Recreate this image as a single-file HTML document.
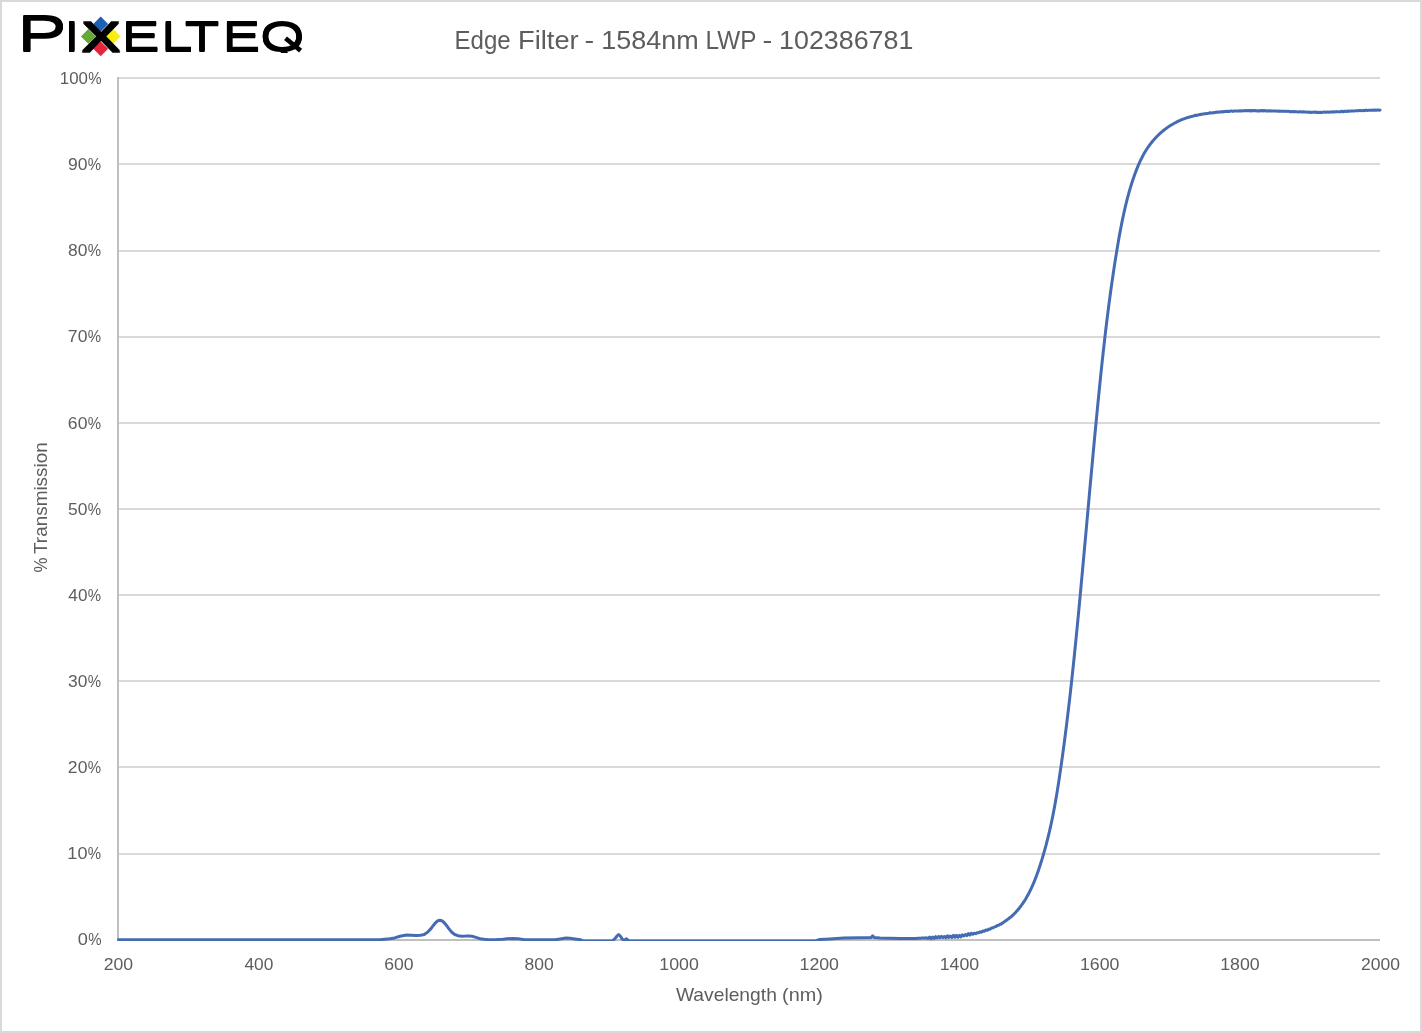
<!DOCTYPE html>
<html lang="en">
<head>
<meta charset="utf-8">
<title>Edge Filter - 1584nm LWP - 102386781</title>
<style>
html,body{margin:0;padding:0;background:#ffffff;}
body{width:1422px;height:1033px;overflow:hidden;}
svg{display:block;}
</style>
</head>
<body>
<svg width="1422" height="1033" viewBox="0 0 1422 1033">
<rect x="0" y="0" width="1422" height="1033" fill="#ffffff"/>
<rect x="1" y="1" width="1420" height="1031" fill="none" stroke="#d9d9d9" stroke-width="2"/>
<g fill="#d9d9d9">
<rect x="118" y="853" width="1262" height="2"/>
<rect x="118" y="766" width="1262" height="2"/>
<rect x="118" y="680" width="1262" height="2"/>
<rect x="118" y="594" width="1262" height="2"/>
<rect x="118" y="508" width="1262" height="2"/>
<rect x="118" y="422" width="1262" height="2"/>
<rect x="118" y="336" width="1262" height="2"/>
<rect x="118" y="250" width="1262" height="2"/>
<rect x="118" y="163" width="1262" height="2"/>
<rect x="118" y="77" width="1262" height="2"/>
</g>
<g fill="#bfbfbf">
<rect x="117" y="77" width="2" height="864"/>
<rect x="117" y="939" width="1263" height="2"/>
</g>
<clipPath id="pc"><rect x="117.25" y="60" width="1265" height="881"/></clipPath>
<path clip-path="url(#pc)" d="M118,939.65 L300,939.65 L380,939.65 L384.8,939.2 L390,938.7 L394.6,937.9 L400,936.3 L406.4,935 L411,935.2 L416.3,935.6 L420.5,935.3 L424.2,934.5 L427.5,932.3 L431,928.6 L433.5,925.2 L436,922.2 L438,920.7 L439.9,920.2 L441.8,920.7 L443.8,922.2 L446.3,925.2 L448.8,928.6 L451.8,932.3 L454.7,934.5 L458,935.7 L461.6,936.2 L465.5,936.1 L469.4,935.9 L472,936.2 L474.4,936.9 L477.5,937.9 L480.3,938.7 L484,939.2 L488.1,939.65 L495,939.65 L502.9,939.2 L507,938.8 L512.8,938.4 L518,938.8 L524.6,939.65 L555.1,939.65 L560,938.9 L566,937.9 L570,938.2 L574.8,938.9 L580.7,939.65 L582.7,941.05 L612.2,941.05 L615.2,938.4 L617,936 L618.6,934.5 L620.3,936 L622.1,938.9 L624,940.3 L626.5,938.9 L629,941.05 L815,941.05 L819,939.6 L830,939 L843.7,938.1 L858.5,937.7 L871,937.6 L872.7,935.9 L874.3,937.6 L880,937.9 L900,938.4 L914.65,938.54 L916.13,938.43 L917.62,938.33 L919.11,938.23 L920.6,938.14 L922.09,938.05 L923.58,937.97 L925.07,937.9 L926.56,937.83 L928.05,938.49 L929.55,937.09 L931.04,938.59 L932.54,937.02 L934.03,938.38 L935.53,936.69 L937.02,937.92 L938.52,936.46 L940.02,937.78 L941.51,936.38 L943.01,937.66 L944.5,936.47 L946,937.75 L947.49,935.78 L948.99,937.35 L950.48,936.01 L951.98,937.5 L953.47,935.28 L954.96,937.22 L956.45,935.4 L957.94,937.22 L959.43,935.35 L960.91,936.81 L962.4,934.83 L963.88,935.94 L965.37,934.55 L966.85,935.62 L968.33,933.6 L969.81,935.04 L971.28,933.24 L972.76,934.32 L974.23,933.21 L975.7,933.65 L977.17,932.67 L978.63,932.76 L980.1,931.87 L981.56,932.22 L983.01,930.95 L984.47,931.2 L985.92,929.97 L987.37,930.3 L988.81,929.08 L990.24,929.14 L991.66,928.05 L993.07,927.79 L994.47,926.89 L995.86,926.64 L997.23,925.49 L998.58,925.37 L999.92,924.3 L1001.24,924 L1002.54,922.86 L1003.82,922.25 L1005.08,921.03 L1006.31,920.5 L1007.51,919.41 L1008.69,918.7 L1009.85,917.52 L1010.97,917.08 L1012.07,915.63 L1013.15,915.14 L1014.2,913.7 L1015.23,913.01 L1016.23,911.49 L1017.21,910.81 L1018.16,909.33 L1019.1,908.65 L1020.01,906.88 L1020.9,906.2 L1021.77,904.62 L1022.62,903.67 L1023.45,902.18 L1024.26,901.41 L1025.05,899.93 L1025.82,898.66 L1026.58,897.38 L1027.31,896.08 L1028.03,894.78 L1028.74,893.46 L1029.42,892.12 L1030.1,890.78 L1030.75,889.43 L1031.39,888.06 L1032.02,886.69 L1032.64,885.31 L1033.24,883.92 L1033.83,882.52 L1034.4,881.12 L1034.97,879.71 L1035.52,878.29 L1036.06,876.87 L1036.59,875.44 L1037.12,874.01 L1037.63,872.58 L1038.13,871.14 L1038.63,869.7 L1039.12,868.26 L1039.6,866.81 L1040.07,865.37 L1040.54,863.92 L1041,862.48 L1041.46,861.03 L1041.91,859.59 L1042.35,858.14 L1042.78,856.69 L1043.21,855.24 L1043.64,853.79 L1044.05,852.34 L1044.46,850.89 L1044.87,849.44 L1045.27,847.99 L1045.66,846.54 L1046.05,845.09 L1046.44,843.63 L1046.81,842.18 L1047.19,840.72 L1047.55,839.27 L1047.92,837.81 L1048.27,836.36 L1048.62,834.9 L1048.97,833.45 L1049.31,831.99 L1049.65,830.53 L1049.98,829.07 L1050.31,827.61 L1050.64,826.15 L1050.95,824.69 L1051.27,823.23 L1051.58,821.77 L1051.89,820.31 L1052.19,818.85 L1052.49,817.38 L1052.78,815.92 L1053.07,814.46 L1053.36,812.99 L1053.64,811.53 L1053.92,810.06 L1054.2,808.6 L1054.47,807.13 L1054.74,805.66 L1055.01,804.2 L1055.27,802.73 L1055.53,801.26 L1055.79,799.79 L1056.04,798.32 L1056.3,796.86 L1056.54,795.39 L1056.79,793.92 L1057.03,792.44 L1057.28,790.97 L1057.51,789.5 L1057.75,788.03 L1057.98,786.56 L1058.22,785.08 L1058.45,783.61 L1058.67,782.14 L1058.9,780.66 L1059.12,779.19 L1059.35,777.71 L1059.57,776.24 L1059.79,774.76 L1060,773.29 L1060.22,771.81 L1060.44,770.33 L1060.65,768.86 L1060.86,767.38 L1061.07,765.9 L1061.28,764.42 L1061.49,762.94 L1061.7,761.46 L1061.91,759.99 L1062.12,758.51 L1062.32,757.03 L1062.53,755.54 L1062.73,754.06 L1062.93,752.58 L1063.13,751.1 L1063.33,749.62 L1063.53,748.14 L1063.73,746.65 L1063.93,745.17 L1064.13,743.69 L1064.32,742.2 L1064.52,740.72 L1064.71,739.24 L1064.9,737.75 L1065.09,736.27 L1065.29,734.78 L1065.48,733.3 L1065.67,731.81 L1065.85,730.33 L1066.04,728.84 L1066.23,727.35 L1066.41,725.87 L1066.6,724.38 L1066.78,722.89 L1066.97,721.4 L1067.15,719.92 L1067.33,718.43 L1067.51,716.94 L1067.69,715.45 L1067.87,713.96 L1068.05,712.47 L1068.23,710.98 L1068.4,709.49 L1068.58,708 L1068.75,706.51 L1068.93,705.02 L1069.1,703.53 L1069.28,702.04 L1069.45,700.55 L1069.62,699.06 L1069.79,697.57 L1069.96,696.08 L1070.13,694.59 L1070.3,693.09 L1070.47,691.6 L1070.64,690.11 L1070.8,688.62 L1070.97,687.12 L1071.13,685.63 L1071.3,684.14 L1071.46,682.64 L1071.63,681.15 L1071.79,679.66 L1071.95,678.16 L1072.11,676.67 L1072.27,675.18 L1072.43,673.68 L1072.59,672.19 L1072.75,670.69 L1072.91,669.2 L1073.07,667.7 L1073.23,666.21 L1073.39,664.71 L1073.54,663.22 L1073.7,661.72 L1073.85,660.23 L1074.01,658.73 L1074.16,657.24 L1074.32,655.74 L1074.47,654.25 L1074.62,652.75 L1074.78,651.25 L1074.93,649.76 L1075.08,648.26 L1075.23,646.76 L1075.38,645.27 L1075.53,643.77 L1075.68,642.28 L1075.83,640.78 L1075.98,639.28 L1076.13,637.79 L1076.28,636.29 L1076.42,634.79 L1076.57,633.29 L1076.72,631.8 L1076.86,630.3 L1077.01,628.8 L1077.16,627.31 L1077.3,625.81 L1077.45,624.31 L1077.59,622.82 L1077.74,621.32 L1077.88,619.82 L1078.02,618.32 L1078.17,616.83 L1078.31,615.33 L1078.45,613.83 L1078.6,612.33 L1078.74,610.84 L1078.88,609.34 L1079.02,607.84 L1079.16,606.35 L1079.3,604.85 L1079.45,603.35 L1079.59,601.85 L1079.73,600.36 L1079.87,598.86 L1080.01,597.36 L1080.15,595.87 L1080.29,594.37 L1080.43,592.87 L1080.57,591.38 L1080.71,589.88 L1080.84,588.38 L1080.98,586.88 L1081.12,585.39 L1081.26,583.89 L1081.4,582.39 L1081.54,580.9 L1081.67,579.4 L1081.81,577.91 L1081.95,576.41 L1082.09,574.91 L1082.23,573.42 L1082.36,571.92 L1082.5,570.42 L1082.64,568.93 L1082.77,567.43 L1082.91,565.93 L1083.05,564.44 L1083.18,562.94 L1083.32,561.45 L1083.46,559.95 L1083.59,558.45 L1083.73,556.96 L1083.86,555.46 L1084,553.97 L1084.14,552.47 L1084.27,550.98 L1084.41,549.48 L1084.54,547.99 L1084.68,546.49 L1084.81,544.99 L1084.95,543.5 L1085.09,542 L1085.22,540.51 L1085.36,539.01 L1085.49,537.52 L1085.63,536.02 L1085.76,534.53 L1085.9,533.03 L1086.03,531.54 L1086.17,530.04 L1086.3,528.55 L1086.44,527.05 L1086.57,525.56 L1086.71,524.06 L1086.84,522.57 L1086.98,521.07 L1087.11,519.58 L1087.25,518.08 L1087.38,516.59 L1087.52,515.1 L1087.65,513.6 L1087.79,512.11 L1087.92,510.61 L1088.06,509.12 L1088.19,507.62 L1088.33,506.13 L1088.46,504.64 L1088.6,503.14 L1088.73,501.65 L1088.87,500.15 L1089,498.66 L1089.14,497.17 L1089.27,495.67 L1089.41,494.18 L1089.54,492.68 L1089.68,491.19 L1089.81,489.7 L1089.95,488.2 L1090.09,486.71 L1090.22,485.22 L1090.36,483.72 L1090.49,482.23 L1090.63,480.74 L1090.77,479.24 L1090.9,477.75 L1091.04,476.26 L1091.18,474.76 L1091.31,473.27 L1091.45,471.78 L1091.59,470.28 L1091.72,468.79 L1091.86,467.3 L1092,465.81 L1092.14,464.31 L1092.27,462.82 L1092.41,461.33 L1092.55,459.83 L1092.69,458.34 L1092.83,456.85 L1092.96,455.36 L1093.1,453.86 L1093.24,452.37 L1093.38,450.88 L1093.52,449.39 L1093.66,447.9 L1093.8,446.4 L1093.94,444.91 L1094.08,443.42 L1094.22,441.93 L1094.36,440.44 L1094.5,438.94 L1094.64,437.45 L1094.78,435.96 L1094.92,434.47 L1095.06,432.98 L1095.21,431.49 L1095.35,429.99 L1095.49,428.5 L1095.63,427.01 L1095.77,425.52 L1095.92,424.03 L1096.06,422.54 L1096.2,421.05 L1096.35,419.56 L1096.49,418.06 L1096.63,416.57 L1096.78,415.08 L1096.92,413.59 L1097.07,412.1 L1097.21,410.61 L1097.36,409.12 L1097.5,407.63 L1097.65,406.14 L1097.8,404.65 L1097.94,403.16 L1098.09,401.67 L1098.24,400.18 L1098.39,398.69 L1098.53,397.2 L1098.68,395.71 L1098.83,394.22 L1098.98,392.73 L1099.13,391.24 L1099.28,389.75 L1099.43,388.26 L1099.58,386.77 L1099.73,385.28 L1099.88,383.79 L1100.03,382.3 L1100.18,380.81 L1100.34,379.32 L1100.49,377.83 L1100.64,376.34 L1100.8,374.85 L1100.95,373.36 L1101.11,371.87 L1101.26,370.38 L1101.42,368.89 L1101.58,367.4 L1101.73,365.91 L1101.89,364.42 L1102.05,362.94 L1102.21,361.45 L1102.37,359.96 L1102.53,358.47 L1102.69,356.98 L1102.86,355.49 L1103.02,354 L1103.18,352.51 L1103.35,351.03 L1103.51,349.54 L1103.68,348.05 L1103.84,346.56 L1104.01,345.07 L1104.18,343.58 L1104.35,342.1 L1104.52,340.61 L1104.69,339.12 L1104.86,337.63 L1105.03,336.15 L1105.2,334.66 L1105.38,333.17 L1105.55,331.68 L1105.73,330.19 L1105.91,328.71 L1106.08,327.22 L1106.26,325.73 L1106.44,324.24 L1106.62,322.76 L1106.8,321.27 L1106.99,319.78 L1107.17,318.3 L1107.35,316.81 L1107.54,315.32 L1107.73,313.83 L1107.91,312.35 L1108.1,310.86 L1108.29,309.37 L1108.48,307.89 L1108.68,306.4 L1108.87,304.91 L1109.06,303.43 L1109.26,301.94 L1109.46,300.46 L1109.65,298.97 L1109.85,297.48 L1110.05,296 L1110.25,294.51 L1110.46,293.02 L1110.66,291.54 L1110.87,290.05 L1111.07,288.57 L1111.28,287.08 L1111.49,285.6 L1111.7,284.11 L1111.91,282.62 L1112.13,281.14 L1112.34,279.65 L1112.56,278.17 L1112.77,276.68 L1112.99,275.2 L1113.21,273.71 L1113.43,272.23 L1113.66,270.74 L1113.88,269.26 L1114.11,267.77 L1114.33,266.29 L1114.56,264.8 L1114.79,263.32 L1115.02,261.83 L1115.26,260.35 L1115.49,258.86 L1115.73,257.38 L1115.97,255.89 L1116.21,254.41 L1116.45,252.93 L1116.69,251.44 L1116.93,249.96 L1117.18,248.47 L1117.43,246.99 L1117.68,245.51 L1117.93,244.02 L1118.18,242.54 L1118.44,241.06 L1118.7,239.57 L1118.96,238.09 L1119.22,236.61 L1119.49,235.13 L1119.76,233.65 L1120.03,232.17 L1120.31,230.69 L1120.58,229.21 L1120.87,227.74 L1121.15,226.26 L1121.44,224.78 L1121.73,223.31 L1122.03,221.83 L1122.33,220.36 L1122.63,218.89 L1122.94,217.42 L1123.26,215.95 L1123.57,214.48 L1123.89,213.02 L1124.22,211.55 L1124.55,210.09 L1124.89,208.62 L1125.23,207.16 L1125.57,205.7 L1125.93,204.25 L1126.28,202.79 L1126.64,201.34 L1127.01,199.88 L1127.39,198.43 L1127.77,196.98 L1128.15,195.54 L1128.55,194.09 L1128.95,192.65 L1129.36,191.21 L1129.77,189.77 L1130.19,188.33 L1130.62,186.9 L1131.06,185.46 L1131.51,184.03 L1131.96,182.6 L1132.42,181.18 L1132.9,179.76 L1133.38,178.34 L1133.87,176.92 L1134.37,175.5 L1134.87,174.09 L1135.39,172.68 L1135.92,171.27 L1136.46,169.87 L1137.02,168.48 L1137.58,167.09 L1138.16,165.7 L1138.75,164.32 L1139.36,162.95 L1139.98,161.59 L1140.62,160.23 L1141.28,158.88 L1141.95,157.55 L1142.64,156.22 L1143.35,154.9 L1144.08,153.6 L1144.83,152.3 L1145.6,151.02 L1146.39,149.76 L1147.2,148.5 L1148.04,147.26 L1148.89,146.03 L1149.77,144.82 L1150.68,143.63 L1151.61,142.45 L1152.56,141.29 L1153.53,140.14 L1154.52,139.02 L1155.54,137.91 L1156.58,136.82 L1157.63,135.76 L1158.71,134.71 L1159.81,133.68 L1160.92,132.67 L1162.06,131.69 L1163.21,130.73 L1164.39,129.79 L1165.57,128.88 L1166.78,127.99 L1168,127.12 L1169.24,126.28 L1170.5,125.47 L1171.77,124.68 L1173.06,123.92 L1174.36,123.19 L1175.68,122.48 L1177.01,121.8 L1178.35,121.16 L1179.71,120.54 L1181.08,119.95 L1182.46,119.4 L1183.85,118.87 L1185.26,118.37 L1186.67,117.89 L1188.09,117.44 L1189.53,117.02 L1190.97,116.62 L1192.42,116.24 L1193.87,115.88 L1195.34,115.25 L1196.81,115.47 L1198.28,114.84 L1199.76,114.76 L1201.24,114.17 L1202.73,114.13 L1204.22,113.74 L1205.71,113.71 L1207.21,113.41 L1208.7,113.26 L1210.19,112.81 L1211.69,112.9 L1213.19,112.61 L1214.68,112.63 L1216.18,112.1 L1217.67,112.23 L1219.17,111.93 L1220.67,112.1 L1222.16,111.54 L1223.66,111.93 L1225.16,111.32 L1226.65,111.56 L1228.15,111.25 L1229.65,111.4 L1231.15,110.94 L1232.64,111.42 L1234.14,111.02 L1235.64,111.06 L1237.14,110.88 L1238.64,110.97 L1240.13,110.71 L1241.63,110.99 L1243.13,110.7 L1244.63,110.75 L1246.13,110.6 L1247.63,110.82 L1249.12,110.52 L1250.62,110.97 L1252.12,110.47 L1253.62,110.83 L1255.12,110.5 L1256.62,110.89 L1258.12,110.68 L1259.61,110.98 L1261.11,110.49 L1262.61,111.01 L1264.11,110.53 L1265.61,110.91 L1267.11,110.7 L1268.6,110.89 L1270.1,110.7 L1271.6,110.94 L1273.1,110.94 L1274.6,111.06 L1276.09,110.99 L1277.59,111.19 L1279.09,111.12 L1280.59,111.18 L1282.09,111.18 L1283.58,111.31 L1285.08,111.22 L1286.58,111.39 L1288.08,111.17 L1289.58,111.67 L1291.07,111.49 L1292.57,111.67 L1294.07,111.54 L1295.57,111.81 L1297.07,111.72 L1298.56,112.06 L1300.06,111.57 L1301.56,112.06 L1303.06,111.82 L1304.55,112.04 L1306.05,112.04 L1307.55,112.21 L1309.05,112.07 L1310.55,112.43 L1312.04,112.16 L1313.54,112.24 L1315.04,111.96 L1316.54,112.42 L1318.04,112.22 L1319.53,112.42 L1321.03,112.25 L1322.53,112.4 L1324.03,111.92 L1325.53,112.45 L1327.03,111.94 L1328.52,112.19 L1330.02,111.96 L1331.52,112.06 L1333.02,111.73 L1334.52,112.06 L1336.01,111.6 L1337.51,111.87 L1339.01,111.63 L1340.51,111.87 L1342.01,111.25 L1343.51,111.73 L1345.01,111.15 L1346.5,111.56 L1348,111.01 L1349.5,111.22 L1351,110.92 L1352.5,111.1 L1354,110.9 L1355.5,110.84 L1357,110.68 L1358.49,110.76 L1359.99,110.41 L1361.49,110.83 L1362.99,110.35 L1364.49,110.7 L1365.99,110.07 L1367.49,110.6 L1368.99,110.16 L1370.49,110.29 L1371.99,110.12 L1373.49,110.22 L1374.99,110.07 L1376.49,110.31 L1377.99,109.84 L1379.48,110.36 L1380,110" fill="none" stroke="#456bb3" stroke-width="3" stroke-linejoin="round" stroke-linecap="round"/>
<g font-family="'Liberation Sans', sans-serif" fill="#5d5d5d">
<text y="49.0" font-size="25.3"><tspan x="454.53" textLength="56.14" lengthAdjust="spacingAndGlyphs">Edge</tspan> <tspan x="518.06" textLength="60.59" lengthAdjust="spacingAndGlyphs">Filter</tspan> <tspan x="584.51" textLength="9.68" lengthAdjust="spacingAndGlyphs">-</tspan> <tspan x="601.25" textLength="97.43" lengthAdjust="spacingAndGlyphs">1584nm</tspan> <tspan x="705.49" textLength="50.44" lengthAdjust="spacingAndGlyphs">LWP</tspan> <tspan x="762.59" textLength="9.82" lengthAdjust="spacingAndGlyphs">-</tspan> <tspan x="779.06" textLength="134.25" lengthAdjust="spacingAndGlyphs">102386781</tspan></text>
<g font-size="17">
<text y="944.75"><tspan x="77.84" textLength="10.12" lengthAdjust="spacingAndGlyphs">0</tspan><tspan x="88.32" textLength="13.32" lengthAdjust="spacingAndGlyphs">%</tspan></text>
<text y="859.34"><tspan x="67.37" textLength="20.08" lengthAdjust="spacingAndGlyphs">10</tspan><tspan x="87.82" textLength="13.32" lengthAdjust="spacingAndGlyphs">%</tspan></text>
<text y="773.18"><tspan x="67.87" textLength="19.57" lengthAdjust="spacingAndGlyphs">20</tspan><tspan x="87.82" textLength="13.32" lengthAdjust="spacingAndGlyphs">%</tspan></text>
<text y="687.02"><tspan x="68.09" textLength="19.34" lengthAdjust="spacingAndGlyphs">30</tspan><tspan x="87.82" textLength="13.32" lengthAdjust="spacingAndGlyphs">%</tspan></text>
<text y="600.86"><tspan x="68.36" textLength="19.06" lengthAdjust="spacingAndGlyphs">40</tspan><tspan x="87.82" textLength="13.32" lengthAdjust="spacingAndGlyphs">%</tspan></text>
<text y="514.7"><tspan x="68.05" textLength="19.38" lengthAdjust="spacingAndGlyphs">50</tspan><tspan x="87.82" textLength="13.32" lengthAdjust="spacingAndGlyphs">%</tspan></text>
<text y="428.54"><tspan x="67.86" textLength="19.58" lengthAdjust="spacingAndGlyphs">60</tspan><tspan x="87.82" textLength="13.32" lengthAdjust="spacingAndGlyphs">%</tspan></text>
<text y="342.38"><tspan x="67.85" textLength="19.59" lengthAdjust="spacingAndGlyphs">70</tspan><tspan x="87.82" textLength="13.32" lengthAdjust="spacingAndGlyphs">%</tspan></text>
<text y="256.22"><tspan x="67.99" textLength="19.44" lengthAdjust="spacingAndGlyphs">80</tspan><tspan x="87.82" textLength="13.32" lengthAdjust="spacingAndGlyphs">%</tspan></text>
<text y="170.06"><tspan x="67.93" textLength="19.51" lengthAdjust="spacingAndGlyphs">90</tspan><tspan x="87.82" textLength="13.32" lengthAdjust="spacingAndGlyphs">%</tspan></text>
<text y="83.9"><tspan x="59.77" textLength="28.14" lengthAdjust="spacingAndGlyphs">100</tspan><tspan x="88.32" textLength="13.32" lengthAdjust="spacingAndGlyphs">%</tspan></text>
<text x="103.71" y="970.4" textLength="29.37" lengthAdjust="spacingAndGlyphs">200</text>
<text x="244.43" y="970.4" textLength="28.87" lengthAdjust="spacingAndGlyphs">400</text>
<text x="384.15" y="970.4" textLength="29.38" lengthAdjust="spacingAndGlyphs">600</text>
<text x="524.50" y="970.4" textLength="29.25" lengthAdjust="spacingAndGlyphs">800</text>
<text x="659.34" y="970.4" textLength="39.44" lengthAdjust="spacingAndGlyphs">1000</text>
<text x="799.56" y="970.4" textLength="39.44" lengthAdjust="spacingAndGlyphs">1200</text>
<text x="939.78" y="970.4" textLength="39.44" lengthAdjust="spacingAndGlyphs">1400</text>
<text x="1080.01" y="970.4" textLength="39.44" lengthAdjust="spacingAndGlyphs">1600</text>
<text x="1220.23" y="970.4" textLength="39.44" lengthAdjust="spacingAndGlyphs">1800</text>
<text x="1360.92" y="970.4" textLength="38.97" lengthAdjust="spacingAndGlyphs">2000</text>
</g>
<text y="1000.9" font-size="18.4"><tspan x="675.92" textLength="100.93" lengthAdjust="spacingAndGlyphs">Wavelength</tspan> <tspan x="782.07" textLength="40.76" lengthAdjust="spacingAndGlyphs">(nm)</tspan></text>
<text transform="translate(46.95,572) rotate(-90)" y="0" font-size="18.4"><tspan x="-0.50" textLength="15.00" lengthAdjust="spacingAndGlyphs">%</tspan> <tspan x="17.98" textLength="111.84" lengthAdjust="spacingAndGlyphs">Transmission</tspan></text>
</g>
<g>
<path d="M100.7,16.6 L108.1,24 L100.7,31.4 L93.3,24Z" fill="#1c5fb4"/>
<path d="M88.3,29 L95.7,36.4 L88.3,43.8 L80.9,36.4Z" fill="#64a938"/>
<path d="M113.1,29 L120.5,36.4 L113.1,43.8 L105.7,36.4Z" fill="#f7ee0e"/>
<path d="M100.7,41.4 L108.1,48.8 L100.7,56.2 L93.3,48.8Z" fill="#e9243a"/>
<filter id="lf" filterUnits="userSpaceOnUse" x="0" y="0" width="320" height="52.75" color-interpolation-filters="sRGB"><feOffset in="SourceGraphic" dy="-1.25" result="a"/><feOffset in="SourceGraphic" dy="1.25" result="b"/><feMerge><feMergeNode in="a"/><feMergeNode in="SourceGraphic"/><feMergeNode in="b"/></feMerge></filter>
<g filter="url(#lf)"><text transform="scale(1.3755,1)" y="51.25" font-family="'Liberation Sans', sans-serif" fill="#000000"><tspan x="12.57" font-size="50.44" textLength="36.08" lengthAdjust="spacingAndGlyphs">P</tspan><tspan x="46.31" font-size="41.72">I</tspan><tspan x="59.71" y="50.60" font-size="39.83" stroke="#000000" stroke-width="1.3" textLength="27.30" lengthAdjust="spacingAndGlyphs">X</tspan><tspan x="88.40 117.11 134.14 161.60 189.08" y="51.25" font-size="41.72">ELTEQ</tspan></text></g>
<line x1="285.5" y1="38.2" x2="300.6" y2="50.6" stroke="#000000" stroke-width="4.6"/>
</g>
</svg>
</body>
</html>
